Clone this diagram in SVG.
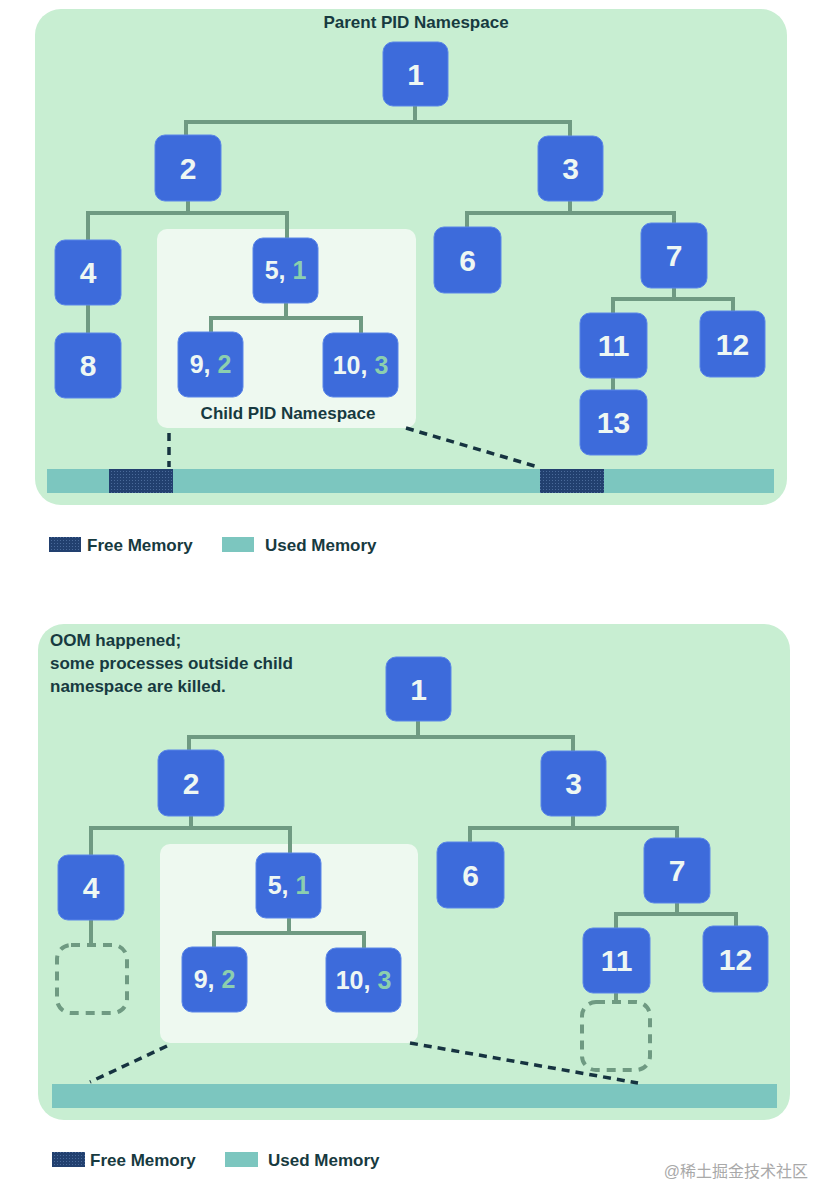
<svg xmlns="http://www.w3.org/2000/svg" width="816" height="1186" viewBox="0 0 816 1186">
<defs>
<pattern id="freePat" width="3" height="3" patternUnits="userSpaceOnUse">
<rect width="3" height="3" fill="#22406f"/>
<rect width="1" height="1" fill="#4a6a9a"/>
</pattern>
<style>
.panel{fill:#c8eed2;}
.child{fill:#eef9f0;}
.node{fill:#3d6bdb;stroke:#5a86e8;stroke-width:1;}
.num{font-family:"Liberation Sans",Arial,sans-serif;font-weight:bold;font-size:30px;fill:#eef7f3;text-anchor:middle;}
.num2{font-family:"Liberation Sans",Arial,sans-serif;font-weight:bold;font-size:25px;fill:#eef7f3;text-anchor:middle;}
.sec{fill:#8ccfae;}
.conn{fill:none;stroke:#6f9a82;stroke-width:4;}
.dead{fill:none;stroke:#6f9a82;stroke-width:4;stroke-dasharray:9 7;}
.ptr{fill:none;stroke:#163340;stroke-width:3.5;stroke-dasharray:8 6;}
.used{fill:#7cc6bf;}
.free{fill:url(#freePat);}
.lbl{font-family:"Liberation Sans",Arial,sans-serif;font-weight:bold;font-size:17px;fill:#173a40;}
.wm{font-family:"Liberation Sans","Noto Sans CJK SC",sans-serif;font-size:16px;fill:#a9a9a9;}
</style>
</defs>

<!-- ===== Top panel ===== -->
<g id="parent-ns-top">
<rect class="panel" x="35" y="9" width="752" height="496" rx="26"/>
<text class="lbl" x="416" y="28" text-anchor="middle">Parent PID Namespace</text>
</g>
<g id="child-ns-top">
<rect class="child" x="157" y="229" width="259" height="199" rx="10"/>
<text class="lbl" x="288" y="419" text-anchor="middle">Child PID Namespace</text>
</g>

<g id="memory-top">
<rect class="used" x="47" y="469" width="727" height="24"/>
<rect class="free" x="109" y="469" width="64" height="24"/>
<rect class="free" x="540" y="469" width="64" height="24"/>
</g>

<g id="connectors-top">
<path class="conn" d="M415 106 V122 M186 135 V122 H570 V136"/>
<path class="conn" d="M188 201 V213 M88 240 V213 H287 V238"/>
<path class="conn" d="M88 305 V333"/>
<path class="conn" d="M570 201 V213 M467 227 V213 H674 V223"/>
<path class="conn" d="M674 288 V299 M613 313 V299 H733 V311"/>
<path class="conn" d="M613 378 V390"/>
<path class="conn" d="M286 303 V318 M211 332 V318 H361 V333"/>
<path class="ptr" d="M169 433 V467"/>
<path class="ptr" d="M406 428 L538 467"/>
</g>

<g id="t-n1"><rect class="node" x="383" y="42" width="65" height="64" rx="10"/><text class="num" x="415.5" y="85">1</text></g>
<g id="t-n2"><rect class="node" x="155" y="135" width="66" height="66" rx="10"/><text class="num" x="188" y="179">2</text></g>
<g id="t-n3"><rect class="node" x="538" y="136" width="65" height="65" rx="10"/><text class="num" x="570.5" y="179">3</text></g>
<g id="t-n4"><rect class="node" x="55" y="240" width="66" height="65" rx="10"/><text class="num" x="88" y="283">4</text></g>
<g id="t-n8"><rect class="node" x="55" y="333" width="66" height="65" rx="10"/><text class="num" x="88" y="376">8</text></g>
<g id="t-n5"><rect class="node" x="253" y="238" width="65" height="65" rx="10"/><text class="num2" x="285.5" y="279">5, <tspan class="sec">1</tspan></text></g>
<g id="t-n9"><rect class="node" x="178" y="332" width="65" height="65" rx="10"/><text class="num2" x="210.5" y="373">9, <tspan class="sec">2</tspan></text></g>
<g id="t-n10"><rect class="node" x="323" y="333" width="75" height="64" rx="10"/><text class="num2" x="360.5" y="374">10, <tspan class="sec">3</tspan></text></g>
<g id="t-n6"><rect class="node" x="434" y="227" width="67" height="66" rx="10"/><text class="num" x="467.5" y="271">6</text></g>
<g id="t-n7"><rect class="node" x="641" y="223" width="66" height="65" rx="10"/><text class="num" x="674" y="266">7</text></g>
<g id="t-n11"><rect class="node" x="580" y="313" width="67" height="65" rx="10"/><text class="num" x="613.5" y="356">11</text></g>
<g id="t-n12"><rect class="node" x="700" y="311" width="65" height="66" rx="10"/><text class="num" x="732.5" y="355">12</text></g>
<g id="t-n13"><rect class="node" x="580" y="390" width="67" height="65" rx="10"/><text class="num" x="613.5" y="433">13</text></g>

<g id="legend-top">
<rect class="free" x="49" y="537" width="32" height="15"/>
<text class="lbl" x="87" y="551">Free Memory</text>
<rect class="used" x="222" y="537" width="32" height="15"/>
<text class="lbl" x="265" y="551">Used Memory</text>
</g>

<!-- ===== Bottom panel ===== -->
<g id="parent-ns-bottom">
<rect class="panel" x="38" y="624" width="752" height="496" rx="26"/>
<text class="lbl" x="50" y="646">OOM happened;</text>
<text class="lbl" x="50" y="669">some processes outside child</text>
<text class="lbl" x="50" y="692">namespace are killed.</text>
</g>
<g id="child-ns-bottom">
<rect class="child" x="160" y="844" width="258" height="199" rx="10"/>
</g>

<g id="memory-bottom">
<rect class="used" x="52" y="1084" width="725" height="24"/>
</g>

<g id="connectors-bottom">
<path class="conn" d="M418 721 V737 M189 750 V737 H573 V751"/>
<path class="conn" d="M191 816 V828 M91 855 V828 H290 V853"/>
<path class="conn" d="M91 920 V945"/>
<path class="conn" d="M573 816 V828 M470 842 V828 H677 V838"/>
<path class="conn" d="M677 903 V914 M616 928 V914 H736 V926"/>
<path class="conn" d="M616 993 V1002"/>
<path class="conn" d="M289 918 V933 M214 947 V933 H364 V948"/>
<path class="ptr" d="M167 1046 L90 1082"/>
<path class="ptr" d="M410 1043 L638 1083"/>
</g>

<g id="b-n1"><rect class="node" x="386" y="657" width="65" height="64" rx="10"/><text class="num" x="418.5" y="700">1</text></g>
<g id="b-n2"><rect class="node" x="158" y="750" width="66" height="66" rx="10"/><text class="num" x="191" y="794">2</text></g>
<g id="b-n3"><rect class="node" x="541" y="751" width="65" height="65" rx="10"/><text class="num" x="573.5" y="794">3</text></g>
<g id="b-n4"><rect class="node" x="58" y="855" width="66" height="65" rx="10"/><text class="num" x="91" y="898">4</text></g>
<g id="b-n8-killed"><rect class="dead" x="57" y="945" width="70" height="68" rx="14"/></g>
<g id="b-n5"><rect class="node" x="256" y="853" width="65" height="65" rx="10"/><text class="num2" x="288.5" y="894">5, <tspan class="sec">1</tspan></text></g>
<g id="b-n9"><rect class="node" x="182" y="947" width="65" height="65" rx="10"/><text class="num2" x="214.5" y="988">9, <tspan class="sec">2</tspan></text></g>
<g id="b-n10"><rect class="node" x="326" y="948" width="75" height="64" rx="10"/><text class="num2" x="363.5" y="989">10, <tspan class="sec">3</tspan></text></g>
<g id="b-n6"><rect class="node" x="437" y="842" width="67" height="66" rx="10"/><text class="num" x="470.5" y="886">6</text></g>
<g id="b-n7"><rect class="node" x="644" y="838" width="66" height="65" rx="10"/><text class="num" x="677" y="881">7</text></g>
<g id="b-n11"><rect class="node" x="583" y="928" width="67" height="65" rx="10"/><text class="num" x="616.5" y="971">11</text></g>
<g id="b-n12"><rect class="node" x="703" y="926" width="65" height="66" rx="10"/><text class="num" x="735.5" y="970">12</text></g>
<g id="b-n13-killed"><rect class="dead" x="582" y="1002" width="68" height="68" rx="14"/></g>

<g id="legend-bottom">
<rect class="free" x="52" y="1152" width="33" height="15"/>
<text class="lbl" x="90" y="1166">Free Memory</text>
<rect class="used" x="225" y="1152" width="33" height="15"/>
<text class="lbl" x="268" y="1166">Used Memory</text>
</g>

<text class="wm" x="808" y="1177" text-anchor="end">@稀土掘金技术社区</text>
</svg>
